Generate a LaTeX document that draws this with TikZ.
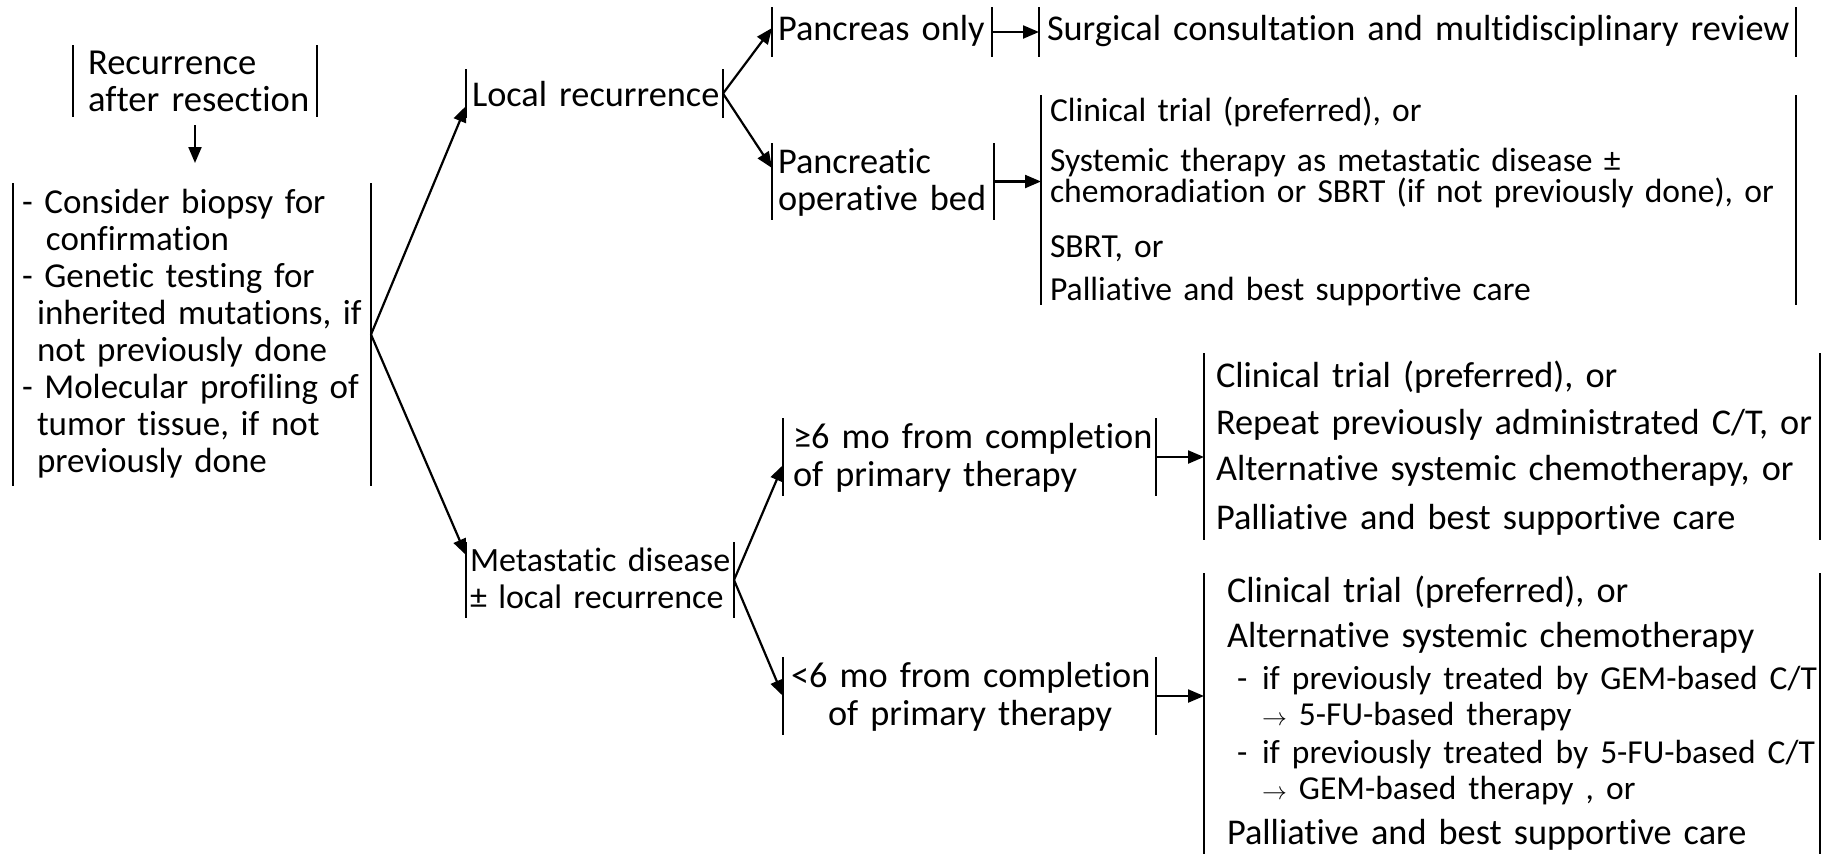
\documentclass[tikz,border=0pt]{standalone}
\usepackage{fontspec}
\setmainfont{Carlito}[Ligatures=NoCommon]
\usetikzlibrary{arrows.meta,calc}
\newcommand{\fsA}{\fontsize{36.3}{37}\selectfont}
\newcommand{\fsR}{\fontsize{36.6}{37}\selectfont}
\newcommand{\fsL}{\fontsize{35}{37}\selectfont}
\newcommand{\fsB}{\fontsize{33.6}{31}\selectfont}
\newcommand{\fsC}{\fontsize{34}{37}\selectfont}
\newcommand{\fsD}{\fontsize{33.5}{37}\selectfont}
\newcommand{\smarr}{{\fontsize{25}{25}\selectfont$\rightarrow$}}
\newcommand{\barsof}[1]{\draw[bar] (#1.north west) -- (#1.south west) (#1.north east) -- (#1.south east);}
\begin{document}
\begin{tikzpicture}[x=1pt,y=-1pt,
  bx/.style={inner sep=0pt, outer sep=0pt, anchor=north west},
  tx/.style={inner sep=0pt, outer sep=0pt, anchor=base west, align=left, text width=#1,
             execute at begin node={\lineskiplimit=-50pt}},
  bar/.style={line width=2.4pt},
  arr/.style={line width=2.2pt, -{Triangle[length=16pt,width=13pt]}}]
\fill[white] (0,0) rectangle (1827,854);
\useasboundingbox (0,0) rectangle (1827,854);

% boxes (bars at left and right)
\node[bx, minimum width=244pt, minimum height=72pt]  (rec)   at (73,45)   {};
\node[bx, minimum width=358pt, minimum height=303pt] (lbox)  at (13,183)  {};
\node[bx, minimum width=257pt, minimum height=49pt]  (local) at (466,69)  {};
\node[bx, minimum width=268pt, minimum height=76pt]  (meta)  at (466,542) {};
\node[bx, minimum width=220pt, minimum height=50pt]  (ponly) at (772,7)   {};
\node[bx, minimum width=222pt, minimum height=77pt]  (pbed)  at (772,143) {};
\node[bx, minimum width=757pt, minimum height=50pt]  (surg)  at (1039,7)  {};
\node[bx, minimum width=755pt, minimum height=210pt] (opt1)  at (1041,95) {};
\node[bx, minimum width=373pt, minimum height=78pt]  (ge)    at (783,418) {};
\node[bx, minimum width=373pt, minimum height=78pt]  (lt)    at (783,657) {};
\node[bx, minimum width=616pt, minimum height=187pt] (opt2)  at (1204,353) {};
\node[bx, minimum width=616pt, minimum height=281pt] (opt3)  at (1204,573) {};
\foreach \b in {rec,lbox,local,meta,ponly,pbed,surg,opt1,ge,lt,opt2,opt3}{\barsof{\b}}

% texts
\node[tx=300pt, font=\fsR] (rec-t) at (88,74) {Recurrence\\after resection};
\node[tx=400pt, font=\fsL] (lbox-t) at (22,213) {- Consider biopsy for\\
\hspace*{24pt}confirmation\\
- Genetic testing for\\
\hspace*{15pt}inherited mutations, if\\
\hspace*{15pt}not previously done\\
- Molecular profiling of\\
\hspace*{15pt}tumor tissue, if not\\
\hspace*{15pt}previously done};
\node[tx=300pt, font=\fsA] (local-t) at (472,106) {Local recurrence};
\node[tx=300pt, font=\fsC] (meta-t) at (470,571) {Metastatic disease\\± local recurrence};
\node[tx=300pt, font=\fsA] (ponly-t) at (778,40) {Pancreas only};
\node[tx=300pt, font=\fsA] (pbed-t) at (778,173) {Pancreatic\\operative bed};
\node[tx=800pt, font=\fsA] (surg-t) at (1047,40) {Surgical consultation and multidisciplinary review};
\node[tx=800pt, font=\fsB] (opt1-t) at (1050,121) {Clinical trial (preferred), or\\[19pt]
Systemic therapy as metastatic disease ±\\[0pt]
chemoradiation or SBRT (if not previously done), or\\[24pt]
SBRT, or\\[12pt]
Palliative and best supportive care};
\node[tx=400pt, font=\fsA] (ge-t) at (793,448) {≥6 mo from completion\\[1pt]of primary therapy};
\node[tx=400pt, font=\fsA] (lt-t) at (791,687) {<6 mo from completion\\[1pt]\hspace*{37pt}of primary therapy};
\node[tx=640pt, font=\fsA] (opt2-t) at (1216,387) {Clinical trial (preferred), or\\[10pt]
Repeat previously administrated C/T, or\\[9pt]
Alternative systemic chemotherapy, or\\[12pt]
Palliative and best supportive care};
\node[tx=640pt, font=\fsA] (opt3-t) at (1227,602) {Clinical trial (preferred), or\\[8pt]
Alternative systemic chemotherapy\\[5pt]
{\fsD\hspace*{10pt}\makebox[25pt][l]{-}if previously treated by GEM-based C/T}\\[-1pt]
{\fsD\hspace*{35pt}\smarr{} 5-FU-based therapy}\\[1pt]
{\fsD\hspace*{10pt}\makebox[25pt][l]{-}if previously treated by 5-FU-based C/T}\\[-1pt]
{\fsD\hspace*{35pt}\smarr{} GEM-based therapy , or}\\[8pt]
Palliative and best supportive care};

% connectors
\draw[arr] ($(rec.south)+(0,8)$) -- ($(rec.south |- lbox.north)+(0,-20)$);
\draw[arr] (lbox.east) -- ($(local.south west)+(0,-12)$);
\draw[arr] (lbox.east) -- ($(meta.north west)+(0,13)$);
\draw[arr] (local.east) -- ($(ponly.north west)+(0,21)$);
\draw[arr] (local.east) -- ($(pbed.north west)+(0,25)$);
\draw[arr] (ponly.east) -- (surg.west);
\draw[arr] (pbed.east) -- (pbed.east -| opt1.west);
\draw[arr] (meta.east) -- ($(ge.west)+(0,8)$);
\draw[arr] (meta.east) -- (lt.west);
\draw[arr] (ge.east) -- (ge.east -| opt2.west);
\draw[arr] (lt.east) -- (lt.east -| opt3.west);
\end{tikzpicture}
\end{document}
